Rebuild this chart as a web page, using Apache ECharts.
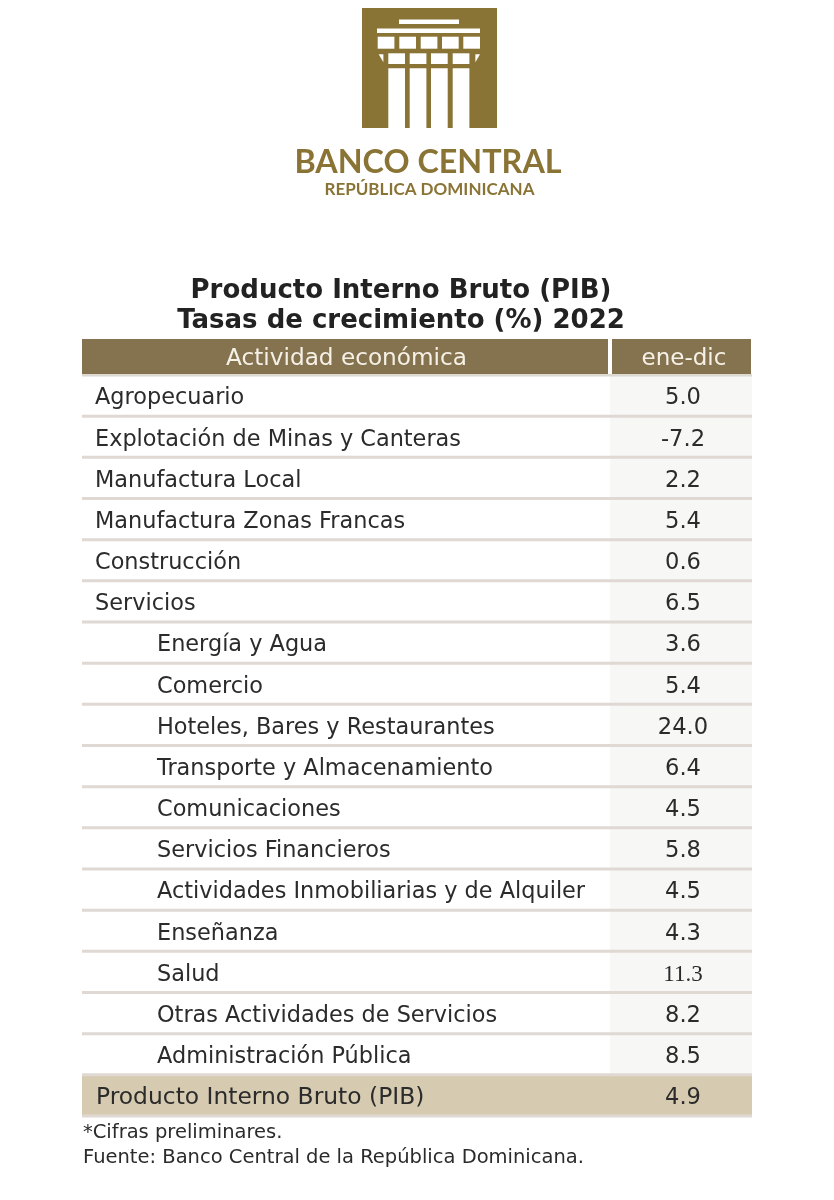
<!DOCTYPE html>
<html>
<head>
<meta charset="utf-8">
<title>PIB 2022</title>
<script src="https://cdn.jsdelivr.net/npm/echarts@6/dist/echarts.min.js"></script>
<style>
html, body { margin: 0; padding: 0; background: #fff; }
#chart { width: 834px; height: 1200px; }
</style>
</head>
<body>
<div id="chart"></div>
<script>
// datos de la tabla
const encabezados = ['Actividad económica', 'ene-dic'];
const actividades = [
	'Agropecuario', 'Explotación de Minas y Canteras', 'Manufactura Local', 'Manufactura Zonas Francas',
	'Construcción', 'Servicios', 'Energía y Agua', 'Comercio', 'Hoteles, Bares y Restaurantes',
	'Transporte y Almacenamiento', 'Comunicaciones', 'Servicios Financieros',
	'Actividades Inmobiliarias y de Alquiler', 'Enseñanza', 'Salud', 'Otras Actividades de Servicios',
	'Administración Pública', 'Producto Interno Bruto (PIB)'
];
const tasas = [5.0, -7.2, 2.2, 5.4, 0.6, 6.5, 3.6, 5.4, 24.0, 6.4, 4.5, 5.8, 4.5, 4.3, 11.3, 8.2, 8.5, 4.9];
const niveles = [0, 0, 0, 0, 0, 0, 1, 1, 1, 1, 1, 1, 1, 1, 1, 1, 1, 0];
const notas = ['*Cifras preliminares.', 'Fuente: Banco Central de la República Dominicana.'];

const FONT = '"DejaVu Sans", Verdana, sans-serif';
const ORO = '#8a7435';
const TEXTO = '#2b2b2b';
const TAM = 22.4;

let myChart = echarts.init(document.getElementById('chart'));

// x del eje va de 0 a 670 (ancho de la tabla en px), la columna de valores empieza en 528
const COL = 528;

function renderFila(params, api) {
	let i = api.value(0);
	let fila = api.coord([0, i]);
	let fin = api.coord([670, i]);
	let alto = api.size([0, 1])[1];
	let arriba = fila[1] - alto / 2;
	let centro = fila[1] + 3;
	let esTotal = i === actividades.length - 1;
	let colX = api.coord([COL, i])[0];
	let hijos = [];

	if (esTotal) {
		hijos.push({ type: 'rect', shape: { x: fila[0], y: arriba, width: fin[0] - fila[0], height: alto }, style: { fill: '#d6cbb0' } });
	} else {
		hijos.push({ type: 'rect', shape: { x: colX, y: arriba, width: fin[0] - colX, height: alto }, style: { fill: '#f7f7f6' } });
	}
	// separador, encima del fondo de la fila siguiente
	hijos.push({ type: 'rect', z2: 5, shape: { x: fila[0], y: arriba + alto - 1.5, width: fin[0] - fila[0], height: 3 }, style: { fill: '#e0d8d3' } });
	if (i === 0) {
		hijos.push({ type: 'rect', z2: 5, shape: { x: fila[0], y: arriba - 1, width: fin[0] - fila[0], height: 2.5 }, style: { fill: '#dcd8d2' } });
	}
	hijos.push({
		type: 'text',
		z2: 6,
		style: {
			x: fila[0] + (esTotal ? 14 : (api.value(2) ? 75 : 13)),
			y: centro,
			text: actividades[i],
			fill: TEXTO,
			font: (esTotal ? 23.4 : TAM) + 'px ' + FONT,
			textAlign: 'left',
			textVerticalAlign: 'middle'
		}
	});
	hijos.push({
		type: 'text',
		z2: 6,
		style: {
			x: fin[0] - 69,
			y: centro,
			text: api.value(1).toFixed(1),
			fill: TEXTO,
			font: (actividades[i] === 'Salud' ? '23px "Liberation Serif"' : '22.6px ' + FONT),
			textAlign: 'center',
			textVerticalAlign: 'middle'
		}
	});
	return { type: 'group', children: hijos };
}

function renderEncabezado(params, api) {
	let c = api.coord([0, 0]);
	let fin = api.coord([670, 0]);
	let colX = api.coord([COL, 0])[0];
	let alto = api.size([0, 1])[1];
	let arriba = c[1] - alto / 2;
	let medio = c[1] + 2.5;
	return {
		type: 'group',
		children: [
			{ type: 'rect', shape: { x: c[0], y: arriba, width: colX - 2 - c[0], height: alto }, style: { fill: '#857350' } },
			{ type: 'rect', shape: { x: colX + 2, y: arriba, width: fin[0] - colX - 3, height: alto }, style: { fill: '#857350' } },
			{ type: 'text', style: { x: 346.5, y: medio, text: encabezados[0], fill: '#f6f1e6', font: '23.2px ' + FONT, textAlign: 'center', textVerticalAlign: 'middle' } },
			{ type: 'text', style: { x: 684, y: medio, text: encabezados[1], fill: '#f6f1e6', font: '23px ' + FONT, textAlign: 'center', textVerticalAlign: 'middle' } }
		]
	};
}

// logo dibujado con rectangulos
function logo() {
	let blanco = { fill: '#fff' };
	let piezas = [
		{ type: 'rect', shape: { x: 362, y: 8, width: 135, height: 120 }, style: { fill: ORO } },
		{ type: 'rect', shape: { x: 399, y: 19.5, width: 60, height: 4.5 }, style: blanco },
		{ type: 'rect', shape: { x: 377, y: 28.5, width: 103, height: 4.5 }, style: blanco }
	];
	[377.7, 399.3, 420.7, 442, 463.3].forEach(x => {
		piezas.push({ type: 'rect', shape: { x: x, y: 36.7, width: 16.7, height: 12 }, style: blanco });
	});
	[388.3, 409.7, 431, 452.7].forEach(x => {
		piezas.push({ type: 'rect', shape: { x: x, y: 53.3, width: 16.7, height: 10.7 }, style: blanco });
		piezas.push({ type: 'rect', shape: { x: x, y: 68.3, width: 16.7, height: 59.7 }, style: blanco });
	});
	piezas.push({ type: 'polygon', shape: { points: [[378.7, 54.3], [383.4, 54.3], [383.4, 62.3]] }, style: blanco });
	piezas.push({ type: 'polygon', shape: { points: [[475.4, 54.3], [480, 54.3], [475.4, 62.3]] }, style: blanco });
	piezas.push({ type: 'text', style: { x: 428, y: 163, text: 'BANCO CENTRAL', fill: ORO, font: 'bold 32.3px Lato', textAlign: 'center', textVerticalAlign: 'middle' } });
	piezas.push({ type: 'text', style: { x: 429.5, y: 190, text: 'REPÚBLICA DOMINICANA', fill: ORO, font: 'bold 17px Lato', textAlign: 'center', textVerticalAlign: 'middle' } });
	return piezas;
}

let option = {
	animation: false,
	backgroundColor: '#fff',
	title: [
		{
			text: 'Producto Interno Bruto (PIB)\nTasas de crecimiento (%) 2022',
			left: 396,
			top: 270.5,
			textAlign: 'center',
			textStyle: { fontFamily: FONT, fontSize: 26, fontWeight: 'bold', color: '#222', lineHeight: 30.5 }
		},
		{
			text: notas.join('\n'),
			left: 78,
			top: 1115,
			textStyle: { fontFamily: FONT, fontSize: 19.5, fontWeight: 'normal', color: TEXTO, lineHeight: 25 }
		}
	],
	graphic: logo(),
	grid: [
		{ left: 82, width: 670, top: 375, height: 741 },
		{ left: 82, width: 670, top: 339, height: 35 }
	],
	xAxis: [
		{ type: 'value', gridIndex: 0, min: 0, max: 670, show: false },
		{ type: 'value', gridIndex: 1, min: 0, max: 670, show: false }
	],
	yAxis: [
		{ type: 'category', gridIndex: 0, inverse: true, data: actividades, show: false },
		{ type: 'category', gridIndex: 1, data: ['encabezado'], show: false }
	],
	series: [
		{
			type: 'custom',
			xAxisIndex: 0,
			yAxisIndex: 0,
			renderItem: renderFila,
			encode: { x: 1, y: 0 },
			data: actividades.map((a, i) => [i, tasas[i], niveles[i]])
		},
		{
			type: 'custom',
			xAxisIndex: 1,
			yAxisIndex: 1,
			renderItem: renderEncabezado,
			data: [[0]]
		}
	]
};

myChart.setOption(option);
</script>
</body>
</html>
